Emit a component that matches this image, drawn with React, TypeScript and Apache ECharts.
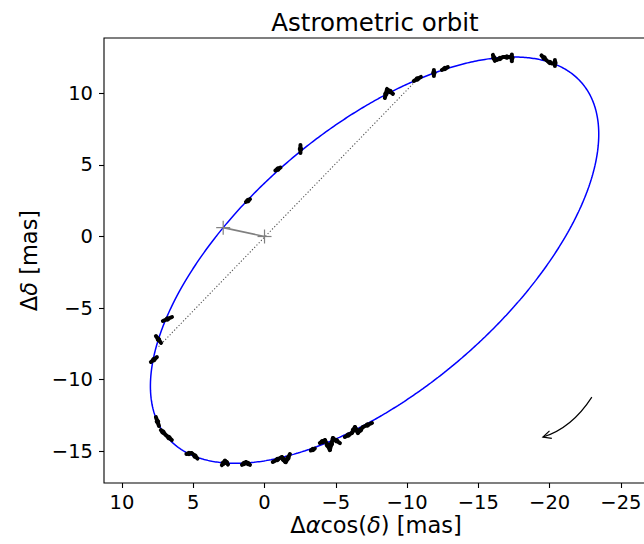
import React, { useEffect, useRef } from "react";
import * as echarts from "echarts";

const FONT = "'DejaVu Sans', 'Liberation Sans', sans-serif";

// Thiele–Innes constants (mas) and eccentricity of the fitted orbit
const ecc = 0.727;
const tiA = 2.27;
const tiB = 10.62;
const tiF = 20.39;
const tiG = -16.89;

// Astrometric measurements: offsets (mas) and half-length of the error segment (mas)
const obsDra = [
  -2.52, -0.94, 1.16, -8.51, -8.8, -10.72, -11.88, -12.65, -16.09, -16.51, -17.0, -17.35,
  -19.61, -20.02, -20.37, 6.81, 7.44, 7.76, 7.51, 7.13, 6.71, 5.3, 4.88, 2.88, 2.67, 1.44,
  1.16, -0.9, -1.33, -1.64, -3.39, -4.06, -4.41, -4.69, -5.04, -5.88, -6.24, -6.45, -6.73, -7.22,
];
const obsDdec = [
  6.11, 4.71, 2.51, 9.95, 10.13, 11.0, 11.42, 11.73, 12.47, 12.43, 12.53, 12.47, 12.47,
  12.15, 12.12, -5.76, -7.19, -8.59, -12.92, -13.65, -14.04, -15.15, -15.33, -15.82, -15.78,
  -15.85, -15.85, -15.57, -15.57, -15.47, -14.87, -14.32, -14.56, -14.49, -14.25, -13.86,
  -13.51, -13.51, -13.51, -13.16,
];
const errDra = [
  0, -0.18, -0.14, -0.07, -0.21, -0.25, 0, -0.21, -0.07, -0.21, -0.21, 0, -0.18, -0.14, 0,
  -0.32, -0.18, -0.21, -0.11, -0.14, -0.21, -0.18, -0.18, -0.11, -0.11, -0.14, -0.14, -0.32,
  -0.11, -0.14, -0.14, -0.18, -0.18, -0.11, -0.25, -0.25, -0.11, -0.11, -0.18, -0.32,
];
const errDdec = [
  0.28, 0.1, 0.1, 0.28, -0.17, 0.14, 0.21, 0.1, -0.21, 0.1, 0, 0.24, -0.17, -0.07, 0.21,
  0.14, -0.24, 0.17, -0.31, -0.14, -0.17, 0.03, -0.17, 0.14, -0.14, 0.1, -0.1, 0.17, -0.17,
  0.28, 0.07, 0.1, -0.35, 0.42, -0.17, 0.14, 0.21, -0.21, 0.21, 0.14,
];

// Line of nodes, where it meets the orbit
const nodeDra = [7.43, -10.72];
const nodeDdec = [-7.69, 10.98];

// Direction-of-motion arrow: start, control point, tip (mas)
const arrowDra = [-22.96, -21.56, -19.53];
const arrowDdec = [-11.21, -13.37, -14.0];

const xTicks = [10, 5, 0, -5, -10, -15, -20, -25];
const yTicks = [10, 5, 0, -5, -10, -15];

const X_MIN = -26.76;
const X_MAX = 11.26;
const Y_MIN = -17.21;
const Y_MAX = 13.86;

function orbitCurve(): number[][] {
  const pts: number[][] = [];
  const s = Math.sqrt(1 - ecc * ecc);
  for (let k = 0; k <= 720; k++) {
    const E = (k / 720) * 2 * Math.PI;
    const X = Math.cos(E) - ecc;
    const Y = s * Math.sin(E);
    pts.push([tiB * X + tiG * Y, tiA * X + tiF * Y]);
  }
  return pts;
}

const fmt = (v: number) => (v < 0 ? "\u2212" + Math.abs(v) : String(v));

export default function App() {
  const ref = useRef<HTMLDivElement>(null);

  useEffect(() => {
    if (!ref.current) return;
    const chart = echarts.init(ref.current, undefined, { renderer: "svg" });
    const peri = [(1 - ecc) * tiB, (1 - ecc) * tiA];

    const obsData = obsDra.map((x, i) => [x, obsDdec[i], errDra[i], errDdec[i]]);

    const tickStyle = { color: "#000", width: 1.1 };

    chart.setOption({
      animation: false,
      backgroundColor: "#fff",
      grid: {
        left: 104,
        right: 14,
        top: 38,
        bottom: 61,
        show: true,
        borderColor: "#000",
        borderWidth: 1.1,
      },
      xAxis: {
        type: "value",
        inverse: true,
        min: X_MIN,
        max: X_MAX,
        position: "bottom",
        axisLine: { show: false, onZero: false },
        splitLine: { show: false },
        axisTick: { show: true, inside: false, length: 5, customValues: xTicks, lineStyle: tickStyle },
        axisLabel: {
          customValues: xTicks,
          formatter: fmt,
          margin: 9,
          color: "#000",
          fontSize: 19.5,
          fontFamily: FONT,
        },
      },
      yAxis: {
        type: "value",
        min: Y_MIN,
        max: Y_MAX,
        position: "left",
        axisLine: { show: false, onZero: false },
        splitLine: { show: false },
        axisTick: { show: true, inside: false, length: 5, customValues: yTicks, lineStyle: tickStyle },
        axisLabel: {
          customValues: yTicks,
          formatter: fmt,
          margin: 11,
          color: "#000",
          fontSize: 19.5,
          fontFamily: FONT,
        },
      },
      graphic: [
        {
          type: "text",
          x: 375,
          y: 22,
          style: {
            text: "Astrometric orbit",
            fill: "#000",
            font: `24.5px ${FONT}`,
            align: "center",
            verticalAlign: "middle",
          },
        },
        {
          type: "text",
          x: 376,
          y: 525,
          style: {
            text: "{n|\u0394}{i|\u03b1}{n|cos(}{i|\u03b4}{n|) [mas]}",
            align: "center",
            verticalAlign: "middle",
            rich: {
              n: { fontFamily: FONT, fontSize: 22.5, fill: "#000" },
              i: { fontFamily: FONT, fontSize: 22.5, fontStyle: "italic", fill: "#000" },
            },
          },
        },
        {
          type: "text",
          x: 29,
          y: 260.5,
          rotation: Math.PI / 2,
          style: {
            text: "{n|\u0394}{i|\u03b4}{n| [mas]}",
            align: "center",
            verticalAlign: "middle",
            rich: {
              n: { fontFamily: FONT, fontSize: 22.5, fill: "#000" },
              i: { fontFamily: FONT, fontSize: 22.5, fontStyle: "italic", fill: "#000" },
            },
          },
        },
      ],
      series: [
        {
          type: "line",
          data: nodeDra.map((x, i) => [x, nodeDdec[i]]),
          showSymbol: false,
          symbol: "none",
          silent: true,
          lineStyle: { color: "#555", width: 1.1, type: [1.2, 2] },
          z: 1,
        },
        {
          type: "line",
          data: orbitCurve(),
          showSymbol: false,
          symbol: "none",
          silent: true,
          lineStyle: { color: "#0000ff", width: 1.5 },
          z: 2,
        },
        {
          type: "custom",
          data: obsData,
          silent: true,
          z: 3,
          renderItem: (_p: any, api: any) => {
            const x = api.value(0);
            const y = api.value(1);
            const ex = api.value(2);
            const ey = api.value(3);
            const a = api.coord([x - ex, y - ey]);
            const b = api.coord([x + ex, y + ey]);
            const c = api.coord([x, y]);
            return {
              type: "group",
              children: [
                {
                  type: "line",
                  shape: { x1: a[0], y1: a[1], x2: b[0], y2: b[1] },
                  style: { stroke: "#000", lineWidth: 4, lineCap: "round" },
                },
                { type: "circle", shape: { cx: c[0], cy: c[1], r: 2.7 }, style: { fill: "#000" } },
              ],
            };
          },
        },
        {
          // star at origin, periastron and the line joining them
          type: "custom",
          data: [[0, 0, peri[0], peri[1]]],
          silent: true,
          z: 4,
          renderItem: (_p: any, api: any) => {
            const o = api.coord([api.value(0), api.value(1)]);
            const p = api.coord([api.value(2), api.value(3)]);
            const h = 7;
            const cross = (q: number[]) => [
              { type: "line", shape: { x1: q[0] - h, y1: q[1], x2: q[0] + h, y2: q[1] }, style: { stroke: "#808080", lineWidth: 1.2 } },
              { type: "line", shape: { x1: q[0], y1: q[1] - h, x2: q[0], y2: q[1] + h }, style: { stroke: "#808080", lineWidth: 1.2 } },
            ];
            return {
              type: "group",
              children: [
                { type: "line", shape: { x1: o[0], y1: o[1], x2: p[0], y2: p[1] }, style: { stroke: "#808080", lineWidth: 1.6 } },
                ...cross(o),
                ...cross(p),
              ],
            };
          },
        },
        {
          type: "custom",
          data: [[arrowDra[0], arrowDdec[0]]],
          silent: true,
          z: 4,
          renderItem: (_p: any, api: any) => {
            const s = api.coord([arrowDra[0], arrowDdec[0]]);
            const c = api.coord([arrowDra[1], arrowDdec[1]]);
            const t = api.coord([arrowDra[2], arrowDdec[2]]);
            const dx = c[0] - t[0];
            const dy = c[1] - t[1];
            const len = Math.hypot(dx, dy);
            const ux = dx / len;
            const uy = dy / len;
            const L = 9;
            const ang = (26 * Math.PI) / 180;
            const rot = (a: number) => [
              t[0] + L * (ux * Math.cos(a) - uy * Math.sin(a)),
              t[1] + L * (ux * Math.sin(a) + uy * Math.cos(a)),
            ];
            return {
              type: "group",
              children: [
                {
                  type: "bezierCurve",
                  shape: { x1: s[0], y1: s[1], x2: t[0], y2: t[1], cpx1: c[0], cpy1: c[1] },
                  style: { stroke: "#000", lineWidth: 1.2, fill: "none" },
                },
                {
                  type: "polyline",
                  shape: { points: [rot(ang), t, rot(-ang)] },
                  style: { stroke: "#000", lineWidth: 1.2, fill: "none" },
                },
              ],
            };
          },
        },
      ],
    });

    return () => chart.dispose();
  }, []);

  return (
    <div
      style={{
        position: "fixed",
        left: 0,
        top: 0,
        width: 644,
        height: 544,
        overflow: "hidden",
        background: "#fff",
      }}
    >
      <div ref={ref} style={{ width: 660, height: 544 }} />
    </div>
  );
}
